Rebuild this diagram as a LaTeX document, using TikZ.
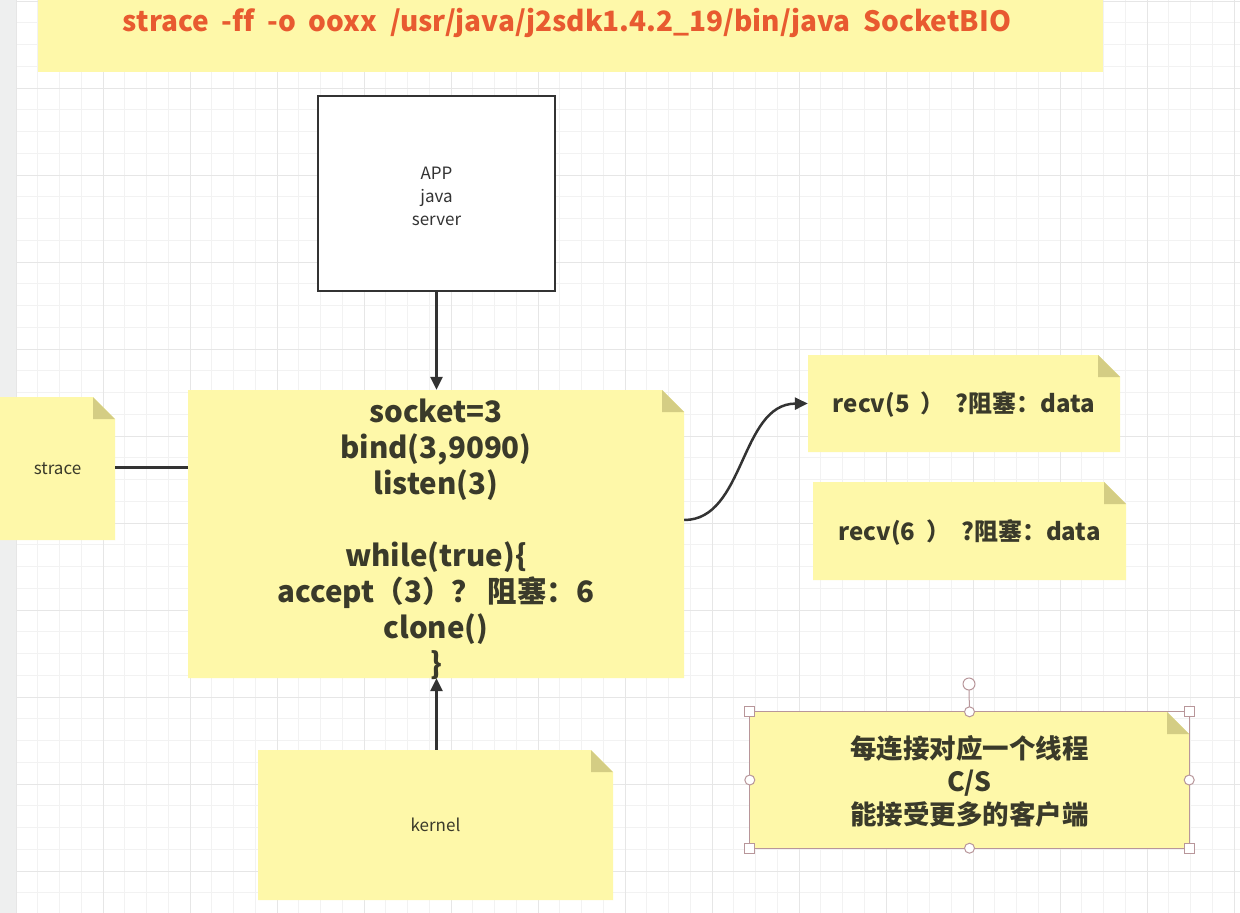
\documentclass[tikz,border=0pt]{standalone}
\usepackage{fontspec}
\setmainfont{Noto Sans CJK SC}
\usetikzlibrary{arrows.meta,calc}
\definecolor{notefill}{HTML}{FEF8A9}
\definecolor{foldfill}{HTML}{D4CD84}
\definecolor{notetextc}{HTML}{3A3A2A}
\definecolor{linec}{HTML}{333333}
\definecolor{bannerc}{HTML}{E85A30}
\definecolor{minorc}{HTML}{F2F2F2}
\definecolor{majorc}{HTML}{E6E6E6}
\definecolor{stripc}{HTML}{EEEFEF}
\definecolor{handlec}{HTML}{B8969A}
\newcommand\Note[8]{%
  \fill[notefill] (#2,#3) -- (#4-22,#3) -- (#4,#3+22) -- (#4,#5) -- (#2,#5) -- cycle;
  \fill[foldfill] (#4-22,#3) -- (#4-22,#3+22) -- (#4,#3+22) -- cycle;
  \node[notetext, minimum width={#4-#2}, minimum height={#5-#3}, font=#6, text depth=0pt] (#1) at ({(#2+#4)/2},{(#3+#5)/2}) {};
  \node[notetext, font=#6] at ([yshift=#7]#1.center) {#8};
}
\begin{document}
\begin{tikzpicture}[x=1pt,y=-1pt,
  notetext/.style={inner sep=0pt, align=center, text=notetextc},
  arr/.style={draw=linec, line width=2.5pt, -{Triangle[length=13pt,width=12pt]}},
  plainline/.style={draw=linec, line width=2.5pt},
  handle/.style={draw=handlec, line width=1pt, fill=white}]
\useasboundingbox (0,0) rectangle (1240,913);
\fill[white] (0,0) rectangle (1240,913);
% grid
\foreach \i in {0,...,56} \draw[minorc, line width=0.8pt] ({16+\i*21.75},0) -- ({16+\i*21.75},913);
\foreach \i in {0,...,41} \draw[minorc, line width=0.8pt] (16,{1+\i*21.75}) -- (1240,{1+\i*21.75});
\foreach \i in {0,...,14} \draw[majorc, line width=1pt] ({16+\i*87},0) -- ({16+\i*87},913);
\foreach \i in {0,...,10} \draw[majorc, line width=1pt] (16,{1+\i*87}) -- (1240,{1+\i*87});
\fill[stripc] (0,0) rectangle (16,913);
% banner
\fill[notefill] (38,0) rectangle (1103,72);
\node[anchor=base, text=bannerc, font=\fontsize{28}{32}\selectfont\bfseries\addfontfeatures{Ligatures=NoCommon}, inner sep=0pt] (banner) at (567,31)
  {strace\ \ -f\kern0pt f\ \ -o\ \ ooxx\ \ /usr/java/j2sdk1.4.2\_19/bin/java\ \ SocketBIO};
% APP box
\node[draw=linec, line width=2.5pt, fill=white, minimum width=237pt, minimum height=195pt,
  inner sep=0pt] (app) at (436.5,193.5) {};
\node[align=center, text=linec, font=\fontsize{17}{23}\selectfont, inner sep=0pt] at ([yshift=-3pt]app.center) {APP\\java\\server};
% notes
\Note{sock}{188}{390}{684}{678}{\fontsize{29.5}{36}\selectfont\bfseries}{-5pt}{socket=3\\bind(3,9090)\\listen(3)\\\mbox{}\\while(true)\{\\accept（3）？ 阻塞：6\\clone()\\\}}
\Note{strace}{0}{397}{115}{540}{\fontsize{17}{22}\selectfont}{0pt}{strace}
\Note{kernel}{258}{750}{613}{900}{\fontsize{17}{22}\selectfont}{0pt}{kernel}
\Note{recva}{808}{355}{1120}{452}{\fontsize{24}{28}\selectfont\bfseries}{-1pt}{recv(5\ \ ）\ \ ?阻塞：data}
\Note{recvb}{813}{482}{1126}{580}{\fontsize{24}{28}\selectfont\bfseries}{-1pt}{recv(6\ \ ）\ \ ?阻塞：data}
\Note{sel}{750}{712}{1189}{848}{\fontsize{26.5}{33}\selectfont\bfseries}{-1pt}{每连接对应一个线程\\C/S\\能接受更多的客户端}
% connectors
\draw[arr] (app.south) -- (app.south |- sock.north);
\draw[arr] (kernel.north -| app.south) -- (app.south |- sock.south);
\draw[plainline] (strace.east) ++(0,-1) -- (188,467.5);
\draw[arr] ([yshift=14pt]sock.east) .. controls (745,520) and (740,404) .. (recva.west);
% selection decoration
\draw[handlec, line width=1pt] (sel.north west) rectangle (sel.south east);
\draw[handlec, line width=1pt] (sel.north) -- (969,690);
\draw[handle] (969,684) circle (6);
\foreach \p in {sel.north west, sel.north east, sel.south west, sel.south east}
  \draw[handle] ([xshift=-5pt,yshift=-5pt]\p) rectangle ([xshift=5pt,yshift=5pt]\p);
\foreach \p in {sel.north, sel.south, sel.west, sel.east}
  \draw[handle] (\p) circle (5);
\end{tikzpicture}
\end{document}
